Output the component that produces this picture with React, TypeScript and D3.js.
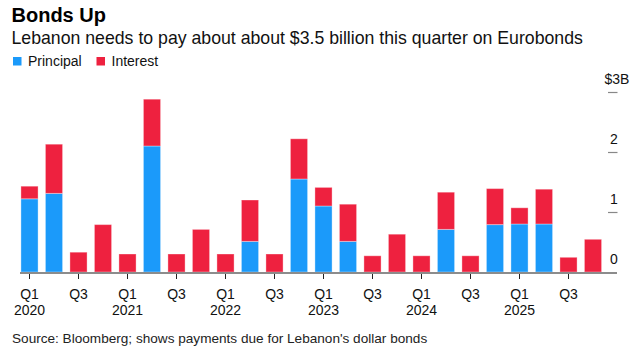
import React from 'react'
import * as d3 from 'd3'

const quarters = [
  'Q1 2020', 'Q2 2020', 'Q3 2020', 'Q4 2020',
  'Q1 2021', 'Q2 2021', 'Q3 2021', 'Q4 2021',
  'Q1 2022', 'Q2 2022', 'Q3 2022', 'Q4 2022',
  'Q1 2023', 'Q2 2023', 'Q3 2023', 'Q4 2023',
  'Q1 2024', 'Q2 2024', 'Q3 2024', 'Q4 2024',
  'Q1 2025', 'Q2 2025', 'Q3 2025', 'Q4 2025'
]
const principal = [
  1.22, 1.31, 0, 0,
  0, 2.1, 0, 0,
  0, 0.51, 0, 1.55,
  1.1, 0.51, 0, 0,
  0, 0.71, 0, 0.79,
  0.8, 0.8, 0, 0
]
const interest = [
  0.21, 0.82, 0.33, 0.79,
  0.3, 0.78, 0.3, 0.71,
  0.3, 0.69, 0.3, 0.67,
  0.31, 0.62, 0.27, 0.63,
  0.27, 0.62, 0.27, 0.6,
  0.27, 0.58, 0.245, 0.545
]
const yTicks = [0, 1, 2, 3]
const seriesNames = ['Principal', 'Interest']
const colors = ['#1b9afa', '#ee213f']

const font = 'Arial, "Liberation Sans", Helvetica, sans-serif'

export default function App() {
  const width = 639
  const height = 351

  const rows = quarters.map((q, i) => ({ q, Principal: principal[i], Interest: interest[i] }))
  const stacked = d3.stack<any>().keys(seriesNames)(rows)

  const x = d3.scaleBand()
    .domain(quarters)
    .range([17.25, 605.25])
    .paddingInner(0.3)
    .paddingOuter(0.15)

  const y = d3.scaleLinear().domain([0, 3]).range([272, 92])

  return (
    <svg width={width} height={height} style={{ position: 'absolute', left: 0, top: 0, fontFamily: font }}>
      <rect width={width} height={height} fill="#fff" />
      <text x={11.5} y={21.5} fontSize={20} fontWeight="bold" fill="#000">Bonds Up</text>
      <text x={11.5} y={43.5} fontSize={17.7} fill="#111">Lebanon needs to pay about about $3.5 billion this quarter on Eurobonds</text>

      {seriesNames.map((name, i) => {
        const lx = i === 0 ? 13 : 96.5
        return (
          <g key={name}>
            <rect x={lx} y={57} width={8.5} height={8.5} fill={colors[i]} />
            <text x={lx + 15} y={66} fontSize={14} fill="#111">{name}</text>
          </g>
        )
      })}

      {stacked.map((layer, si) => (
        <g key={layer.key} fill={colors[si]}>
          {layer.map((d, i) => {
            const h = y(d[0]) - y(d[1])
            if (h <= 0) return null
            return (
              <rect
                key={i}
                x={x(quarters[i])}
                y={y(d[1])}
                width={x.bandwidth()}
                height={h}
                stroke="#fff"
                strokeOpacity={0.35}
                strokeWidth={1}
              />
            )
          })}
        </g>
      ))}

      {/* baseline */}
      <line x1={20} x2={617} y1={273} y2={273} stroke="#8c8c8c" strokeWidth={2} />

      {/* y axis on the right */}
      {yTicks.map(t => (
        <g key={t}>
          {t > 0 && <line x1={608} x2={617.5} y1={y(t) + 0.5} y2={y(t) + 0.5} stroke="#888" strokeWidth={1.2} />}
          <text x={t === 3 ? 617 : 614} y={t === 0 ? 263.5 : y(t) - 8} fontSize={14} textAnchor="middle" fill="#111">
            {t === 3 ? '$3B' : String(t)}
          </text>
        </g>
      ))}

      {/* x axis */}
      {quarters.map((q, i) => {
        const [qq, yr] = q.split(' ')
        if (qq !== 'Q1' && qq !== 'Q3') return null
        const cx = (x(q) as number) + x.bandwidth() / 2
        return (
          <g key={q}>
            <line x1={cx} x2={cx} y1={274} y2={279} stroke="#222" strokeWidth={1} />
            <text x={cx} y={298.5} fontSize={14} textAnchor="middle" fill="#111">{qq}</text>
            {qq === 'Q1' && <text x={cx} y={315} fontSize={14} textAnchor="middle" fill="#111">{yr}</text>}
          </g>
        )
      })}

      <text x={12} y={343} fontSize={13.6} fill="#222">Source: Bloomberg; shows payments due for Lebanon's dollar bonds</text>
    </svg>
  )
}
